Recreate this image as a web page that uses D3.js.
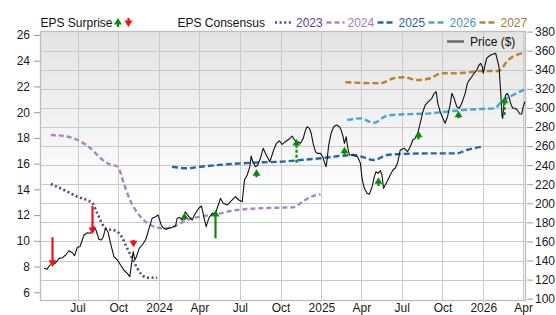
<!DOCTYPE html>
<html>
<head>
<meta charset="utf-8">
<script src="https://cdn.jsdelivr.net/npm/d3@7"></script>
<style>
  body { margin: 0; background: #fff; }
  text { font-family: "Liberation Sans", Arial, sans-serif; }
</style>
</head>
<body>
<script>
// price, [decimal year, $]
const priceData = [[2023.289,131.9],[2023.306,130.8],[2023.326,135.3],[2023.341,135.3],[2023.361,137.7],[2023.382,142.3],[2023.403,143.0],[2023.423,145.8],[2023.443,150.3],[2023.464,148.2],[2023.478,145.1],[2023.495,153.9],[2023.511,154.5],[2023.536,166.8],[2023.557,169.2],[2023.577,168.6],[2023.597,175.5],[2023.610,172.0],[2023.628,162.3],[2023.643,161.5],[2023.655,165.0],[2023.669,173.8],[2023.684,170.2],[2023.700,158.1],[2023.721,144.0],[2023.742,140.6],[2023.762,135.3],[2023.782,130.1],[2023.803,126.6],[2023.819,123.1],[2023.830,137.1],[2023.840,149.3],[2023.850,140.6],[2023.860,144.0],[2023.877,152.8],[2023.896,156.3],[2023.916,161.5],[2023.926,166.8],[2023.941,175.5],[2023.957,184.3],[2023.978,186.0],[2023.994,187.7],[2024.013,177.3],[2024.029,173.8],[2024.043,172.7],[2024.060,173.8],[2024.080,174.8],[2024.101,176.2],[2024.111,184.3],[2024.125,185.3],[2024.142,182.5],[2024.162,191.2],[2024.183,186.0],[2024.204,182.5],[2024.218,187.7],[2024.244,194.8],[2024.261,197.2],[2024.275,186.0],[2024.290,175.5],[2024.306,184.3],[2024.327,189.5],[2024.347,189.5],[2024.361,196.4],[2024.378,205.2],[2024.395,200.0],[2024.419,198.2],[2024.440,201.7],[2024.470,206.9],[2024.491,203.5],[2024.512,201.7],[2024.526,224.4],[2024.543,229.7],[2024.559,238.4],[2024.567,249.6],[2024.577,243.6],[2024.594,238.4],[2024.608,240.1],[2024.624,247.2],[2024.641,257.7],[2024.655,252.4],[2024.682,243.6],[2024.706,255.9],[2024.723,262.9],[2024.741,265.6],[2024.758,261.8],[2024.778,264.6],[2024.799,267.1],[2024.820,270.5],[2024.834,266.4],[2024.854,264.6],[2024.871,262.9],[2024.888,268.1],[2024.902,276.8],[2024.912,280.3],[2024.926,278.6],[2024.937,273.4],[2024.949,262.9],[2024.963,254.1],[2024.974,252.4],[2024.994,252.4],[2025.008,248.8],[2025.021,241.9],[2025.029,238.4],[2025.035,245.4],[2025.045,261.1],[2025.060,273.4],[2025.076,280.3],[2025.093,282.1],[2025.111,280.3],[2025.122,276.8],[2025.134,269.8],[2025.142,262.9],[2025.153,269.8],[2025.162,259.3],[2025.173,250.6],[2025.189,250.6],[2025.210,249.6],[2025.224,248.8],[2025.241,241.9],[2025.251,226.2],[2025.265,215.7],[2025.282,210.5],[2025.296,209.4],[2025.313,217.4],[2025.327,227.9],[2025.337,233.1],[2025.350,231.4],[2025.364,234.2],[2025.374,229.7],[2025.384,215.7],[2025.405,222.6],[2025.425,229.7],[2025.442,235.0],[2025.456,236.7],[2025.470,241.9],[2025.487,255.9],[2025.512,257.7],[2025.532,254.1],[2025.549,259.3],[2025.565,266.4],[2025.580,268.1],[2025.594,272.6],[2025.610,283.9],[2025.627,296.0],[2025.641,303.0],[2025.661,306.5],[2025.682,310.1],[2025.697,315.3],[2025.709,317.0],[2025.719,304.8],[2025.734,296.0],[2025.750,289.1],[2025.764,283.9],[2025.779,290.8],[2025.795,303.0],[2025.806,315.3],[2025.820,310.1],[2025.836,301.3],[2025.852,299.6],[2025.867,304.8],[2025.888,315.3],[2025.902,325.8],[2025.914,329.2],[2025.929,332.7],[2025.943,336.3],[2025.960,339.7],[2025.974,345.0],[2025.984,346.7],[2025.994,343.2],[2026.000,336.3],[2026.011,345.0],[2026.021,352.0],[2026.031,353.7],[2026.046,355.5],[2026.062,356.5],[2026.077,357.2],[2026.087,350.2],[2026.097,343.2],[2026.108,315.3],[2026.116,290.8],[2026.120,289.1],[2026.128,304.8],[2026.138,313.5],[2026.148,315.3],[2026.159,311.7],[2026.169,304.8],[2026.182,299.6],[2026.196,299.6],[2026.210,297.8],[2026.226,293.6],[2026.237,293.6],[2026.247,301.3],[2026.257,306.5]];

// EPS consensus by fiscal year, [decimal year, EPS]
const eps2023 = [[2023.331,14.42],[2023.413,13.95],[2023.495,13.43],[2023.588,12.92],[2023.618,12.14],[2023.669,10.97],[2023.737,10.76],[2023.762,10.45],[2023.803,9.42],[2023.844,8.38],[2023.885,7.48],[2023.916,7.17],[2023.936,7.13],[2023.988,7.13]];
const eps2024 = [[2023.331,18.23],[2023.413,18.15],[2023.495,17.84],[2023.577,17.19],[2023.639,16.42],[2023.680,16.03],[2023.745,15.76],[2023.782,14.47],[2023.823,13.1],[2023.885,11.88],[2023.947,11.23],[2024.029,10.97],[2024.090,11.1],[2024.173,11.62],[2024.255,11.88],[2024.358,12.09],[2024.440,12.32],[2024.624,12.53],[2024.748,12.58],[2024.830,12.61],[2024.871,12.92],[2024.922,13.35],[2024.994,13.62]];
const eps2025 = [[2024.080,15.76],[2024.173,15.64],[2024.255,15.76],[2024.440,15.97],[2024.624,16.1],[2024.748,16.15],[2024.871,16.28],[2024.994,16.42],[2025.117,16.6],[2025.199,16.67],[2025.261,16.49],[2025.323,16.28],[2025.405,16.67],[2025.487,16.75],[2025.692,16.8],[2025.836,16.8],[2025.898,17.06],[2025.992,17.32]];
const eps2026 = [[2025.159,19.4],[2025.241,19.52],[2025.323,19.18],[2025.405,19.73],[2025.487,19.82],[2025.569,19.86],[2025.672,19.91],[2025.775,20.04],[2025.877,20.17],[2025.980,20.25],[2026.072,20.3],[2026.103,20.69],[2026.185,21.34],[2026.257,21.78]];
const eps2027 = [[2025.148,22.33],[2025.364,22.25],[2025.446,22.64],[2025.508,22.72],[2025.590,22.5],[2025.672,22.64],[2025.744,23.03],[2025.836,23.03],[2025.898,23.08],[2025.980,23.2],[2026.093,23.2],[2026.154,24.06],[2026.257,24.62]];

// EPS surprises, [report date, consensus, actual]
const surprises = [[2023.341,10.28,7.99],[2023.588,12.71,10.53],[2023.838,10.07,9.50],[2024.156,11.62,12.19],[2024.343,10.2,12.4],[2024.594,14.94,15.56],[2024.846,16.07,17.92],[2025.138,16.67,17.32],[2025.347,14.26,14.94],[2025.594,17.89,18.56],[2025.843,19.53,20.12],[2026.128,19.78,21.2]];

const seriesNames = ["2023", "2024", "2025", "2026", "2027"];
const leftTicks = [6, 8, 10, 12, 14, 16, 18, 20, 22, 24, 26];
const rightTicks = [100, 120, 140, 160, 180, 200, 220, 240, 260, 280, 300, 320, 340, 360, 380];

const seriesStyle = [
  { color: "#653a92", text: "#653a92", dash: "2,2.6", width: 2.6 },
  { color: "#a886c6", text: "#a07cc0", dash: "5,3", width: 2.4 },
  { color: "#2465b0", text: "#2e62a6", dash: "6,3", width: 2.4 },
  { color: "#48a6d6", text: "#4f94bf", dash: "6,3", width: 2.4 },
  { color: "#bb8434", text: "#a8772e", dash: "6,3", width: 2.4 }
];
const dashedShafts = [6, 11];

function toDate(y) {
  const yr = Math.floor(y);
  const a = Date.UTC(yr, 0, 1), b = Date.UTC(yr + 1, 0, 1);
  return new Date(a + (y - yr) * (b - a));
}

const L = 40, R = 526, T = 31, B = 301;

const svg = d3.select("body").append("svg")
  .attr("width", 556)
  .attr("height", 315);

const x = d3.scaleUtc()
  .domain([new Date(Date.UTC(2023, 3, 7, 10)), new Date(Date.UTC(2026, 3, 7, 8))])
  .range([L, R]);
const yL = d3.scaleLinear().domain([6, 26]).range([292.3, 35]);
const yR = d3.scaleLinear().domain([100, 360]).range([298.7, 50.7]);

// background
const grad = svg.append("defs").append("linearGradient")
  .attr("id", "bg").attr("x1", 0).attr("y1", 0).attr("x2", 0).attr("y2", 1);
grad.append("stop").attr("offset", "0%").attr("stop-color", "#e3e3e3");
grad.append("stop").attr("offset", "62%").attr("stop-color", "#ffffff");
svg.select("defs").append("clipPath").attr("id", "clip")
  .append("rect").attr("x", L).attr("y", T).attr("width", R - L).attr("height", B - T);

svg.append("rect")
  .attr("x", L).attr("y", T).attr("width", R - L).attr("height", B - T)
  .attr("fill", "url(#bg)");

const quarters = x.ticks(d3.utcMonth.every(3));

// grid
svg.append("g").selectAll("line")
  .data(rightTicks.slice(1, -1))
  .enter().append("line")
    .attr("x1", L).attr("x2", R)
    .attr("y1", d => Math.round(yR(d)) + 0.5)
    .attr("y2", d => Math.round(yR(d)) + 0.5)
    .attr("stroke", "#cacaca");
svg.append("g").selectAll("line")
  .data(quarters)
  .enter().append("line")
    .attr("x1", d => Math.round(x(d)) + 0.5)
    .attr("x2", d => Math.round(x(d)) + 0.5)
    .attr("y1", T).attr("y2", B)
    .attr("stroke", "#cacaca");

// frame
svg.append("rect")
  .attr("x", L + 0.5).attr("y", T + 0.5).attr("width", R - L - 1).attr("height", B - T - 1)
  .attr("fill", "none").attr("stroke", "#bdbdbd").attr("stroke-width", 1.3);

// axes
const fmtMonth = d3.utcFormat("%b");
const axB = svg.append("g")
  .attr("transform", "translate(0," + B + ")")
  .call(d3.axisBottom(x).tickValues(quarters).tickSize(0).tickPadding(2.5)
    .tickFormat(d => d.getUTCMonth() === 0 ? d.getUTCFullYear() : fmtMonth(d)));
const axL = svg.append("g")
  .attr("transform", "translate(" + L + ",0)")
  .call(d3.axisLeft(yL).tickValues(leftTicks).tickSize(6).tickPadding(4));
const axR = svg.append("g")
  .attr("transform", "translate(" + (R + 1) + ",0)")
  .call(d3.axisRight(yR).tickValues(rightTicks).tickSize(6).tickPadding(2));

[axB, axL, axR].forEach(g => {
  g.select(".domain").remove();
  g.selectAll(".tick line").attr("stroke", "#9a9a9a");
  g.selectAll("text").attr("font-size", 12).attr("fill", "#1a1a1a")
    .style("font-family", "'Liberation Sans', Arial, sans-serif");
});

const plot = svg.append("g").attr("clip-path", "url(#clip)");

// consensus lines
const epsLine = d3.line()
  .x(d => x(toDate(d[0])))
  .y(d => yL(d[1]))
  .curve(d3.curveMonotoneX);

[eps2023, eps2024, eps2025, eps2026, eps2027].forEach((s, i) => {
  plot.append("path")
    .datum(s)
    .attr("d", epsLine)
    .attr("fill", "none")
    .attr("stroke", seriesStyle[i].color)
    .attr("stroke-width", seriesStyle[i].width)
    .attr("stroke-dasharray", seriesStyle[i].dash);
});

// price
const priceLine = d3.line()
  .x(d => x(toDate(d[0])))
  .y(d => yR(d[1]));

plot.append("path")
  .datum(priceData)
  .attr("d", priceLine)
  .attr("fill", "none")
  .attr("stroke", "#111")
  .attr("stroke-width", 1.1)
  .attr("stroke-linejoin", "round");

// surprise arrows
function arrow(g, cx, y0, y1, color, dashed) {
  const dir = y1 < y0 ? 1 : -1;   // 1 = pointing up
  g.append("line")
    .attr("x1", cx).attr("x2", cx)
    .attr("y1", y0).attr("y2", y1 + dir * 5)
    .attr("stroke", color)
    .attr("stroke-width", 2.2)
    .attr("stroke-dasharray", dashed ? "3,2" : null);
  g.append("path")
    .attr("d", "M" + cx + "," + y1 + "L" + (cx - 4) + "," + (y1 + dir * 6.5) + "L" + (cx + 4) + "," + (y1 + dir * 6.5) + "Z")
    .attr("fill", color);
}

surprises.forEach((s, i) => {
  const color = s[2] >= s[1] ? "#0a8a0a" : "#f41010";
  arrow(plot, Math.round(x(toDate(s[0]))) + 0.5, yL(s[1]), yL(s[2]), color, dashedShafts.includes(i));
});

// legend
const leg = svg.append("g").attr("font-size", 12);
leg.append("text").attr("x", 40.5).attr("y", 27).attr("fill", "#111").text("EPS Surprise");
arrow(leg, 118, 27, 18, "#0a8a0a", false);
arrow(leg, 128.5, 18, 27, "#f41010", false);
leg.append("text").attr("x", 177.5).attr("y", 27).attr("fill", "#111").text("EPS Consensus");

const legX = [275, 326.5, 377.5, 428.5, 479.5];
seriesNames.forEach((n, i) => {
  leg.append("line")
    .attr("x1", legX[i]).attr("x2", legX[i] + 18)
    .attr("y1", 22.5).attr("y2", 22.5)
    .attr("stroke", seriesStyle[i].color)
    .attr("stroke-width", seriesStyle[i].width)
    .attr("stroke-dasharray", seriesStyle[i].dash);
  leg.append("text")
    .attr("x", legX[i] + 21).attr("y", 27)
    .attr("fill", seriesStyle[i].text)
    .text(n);
});

leg.append("line")
  .attr("x1", 447).attr("x2", 464).attr("y1", 41.5).attr("y2", 41.5)
  .attr("stroke", "#6a6a6a").attr("stroke-width", 2.5);
leg.append("text").attr("x", 470).attr("y", 45.5).attr("fill", "#111").text("Price ($)");
</script>
</body>
</html>
